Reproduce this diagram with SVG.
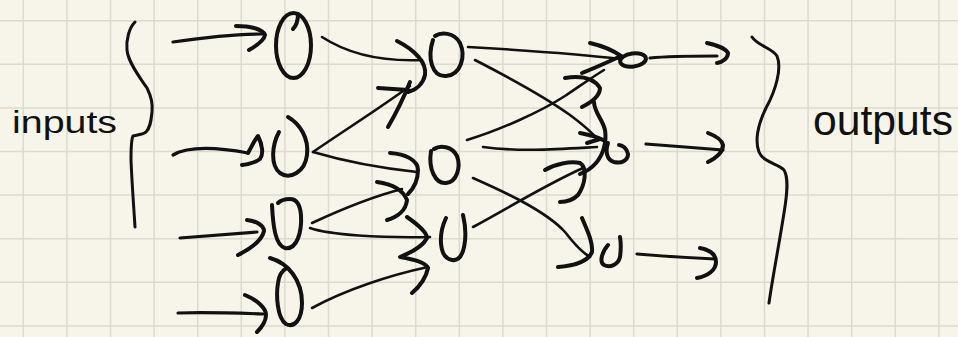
<svg xmlns="http://www.w3.org/2000/svg" width="958" height="337" viewBox="0 0 958 337">
<defs>
<style>
.bg{fill:#f7f5ea}
.grid{stroke:#dcdacd;stroke-width:1.5;fill:none}
.ink{fill:none;stroke:#111;stroke-linecap:round;stroke-linejoin:round}
.n{stroke-width:4}
.h{stroke-width:4}
.l{stroke-width:3.2}
.t{stroke-width:2.6}
.b{stroke-width:3}
.lbl{font-family:"Liberation Sans","DejaVu Sans",sans-serif;fill:#111}
</style>
</defs>
<rect class="bg" x="0" y="0" width="958" height="337"/>
<path class="grid" d="M23.3,0V337M66.9,0V337M110.5,0V337M154.1,0V337M197.7,0V337M241.3,0V337M284.9,0V337M328.5,0V337M372.1,0V337M415.7,0V337M459.3,0V337M502.9,0V337M546.5,0V337M590.1,0V337M633.7,0V337M677.3,0V337M720.9,0V337M764.5,0V337M808.1,0V337M851.7,0V337M895.3,0V337M938.9,0V337M0,20.7H958M0,64.3H958M0,107.9H958M0,151.5H958M0,195.1H958M0,238.7H958M0,282.3H958M0,325.9H958"/>

<g id="label-inputs">
<text class="lbl" x="12" y="133" font-size="32" textLength="105" lengthAdjust="spacingAndGlyphs">inputs</text>
</g>
<g id="brace-inputs">
<path class="ink b" d="M135,22C129,28 126,40 127,50C128,62 140,78 147,88C151,96 153,104 152,112C151,122 150,128 146,132C142,135 136,135 133,136C131,140 131,150 131,160C132,185 134,210 135,227"/>
</g>

<g id="in1"><ellipse class="ink n" cx="293.5" cy="45.5" rx="17.5" ry="32.5"/><path class="ink n" d="M293,29Q298,24 298,14"/></g>
<g id="in2"><path class="ink n" d="M279,132C272,145 270,165 280,173C290,180 305,172 307,155C309,138 300,124 288,117"/></g>
<g id="in3"><path class="ink n" d="M272,205C273,225 275,245 285,248C297,250 302,232 301,215C300,204 296,199 290,199C284,199 280,201 278,203"/></g>
<g id="in4"><path class="ink n" d="M270,258C288,263 302,280 302,303C302,320 294,328 286,324C277,318 276,295 278,283C279,275 283,270 287,268"/></g>

<g id="h1"><path class="ink n" d="M433,40C427,58 432,77 446,76C461,75 466,56 460,43C454,32 441,32 435,36"/></g>
<g id="h2"><path class="ink n" d="M431,151C428,170 436,184 446,183C457,182 461,167 457,156C452,146 440,145 434,149"/></g>
<g id="h3"><path class="ink n" d="M446,218C438,235 439,258 452,260C465,262 468,236 463,215"/></g>

<g id="out1"><ellipse class="ink n" cx="633" cy="60" rx="13" ry="6.5" transform="rotate(-8 633 60)"/></g>
<g id="out2"><path class="ink n" d="M608,143C605,152 607,160 614,162C622,164 628,160 628,154C627,148 622,145 619,145"/></g>
<g id="out3"><path class="ink n" d="M608,245C602,252 599,262 604,265C610,268 618,265 620,257C621,250 621,243 620,237"/></g>

<g id="brace-outputs">
<path class="ink b" d="M752,37C758,46 772,48 777,56C782,68 776,90 766,108C757,126 755,142 759,152C763,162 778,164 784,170C789,178 787,195 784,213C779,245 773,275 769,303"/>
</g>
<g id="label-outputs">
<text class="lbl" x="813" y="135" font-size="42" textLength="140" lengthAdjust="spacingAndGlyphs">outputs</text>
</g>

<g id="connectors">
<!-- inputs into first layer -->
<path class="ink l" d="M173,42C200,38 235,34 262,34"/>
<path class="ink h" d="M236,26C250,26 263,29 265,35C264,41 256,46 249,50"/>
<path class="ink l" d="M173,155C185,148 205,145 248,153"/>
<path class="ink h" d="M248,153C252,146 255,139 258,136C262,144 264,154 260,159C256,162 250,164 242,165"/>
<path class="ink l" d="M180,238C205,236 230,234 257,232"/>
<path class="ink h" d="M247,220C257,221 264,226 264,231C262,240 250,249 238,255"/>
<path class="ink l" d="M178,313C205,312 235,313 263,314"/>
<path class="ink h" d="M245,295C257,300 266,308 266,315C266,322 262,327 257,332"/>

<!-- layer 1 to layer 2 -->
<path class="ink t" d="M322,37C345,52 375,62 422,60"/>
<path class="ink h" d="M397,41C415,50 427,63 425,75C423,84 416,90 408,92"/>
<path class="ink t" d="M313,152C345,130 380,108 410,86"/>
<path class="ink h" d="M378,88L408,90"/>
<path class="ink h" d="M410,82C404,97 395,115 388,127"/>
<path class="ink t" d="M313,152C340,160 380,168 417,172"/>
<path class="ink h" d="M390,153C405,154 418,160 418,170C418,180 414,188 408,194"/>
<path class="ink t" d="M312,223C340,210 375,196 402,189"/>
<path class="ink h" d="M377,182C392,184 403,190 407,200C406,210 398,217 387,220"/>
<path class="ink t" d="M310,228C330,235 380,238 430,237"/>
<path class="ink t" d="M312,308C345,290 390,275 428,267"/>
<path class="ink h" d="M407,217C417,224 427,232 427,238C423,246 410,253 400,257C412,259 426,262 428,268C426,278 419,287 412,293"/>

<!-- layer 2 to outputs -->
<path class="ink t" d="M468,47C520,50 580,54 620,59"/>
<path class="ink h" d="M590,43C603,46 614,51 621,56C608,62 595,68 582,73"/>
<path class="ink t" d="M475,60C510,78 545,97 570,115C582,124 592,132 598,140"/>
<path class="ink t" d="M467,140C500,130 540,112 565,96C580,86 594,76 604,70"/>
<path class="ink h" d="M565,78C578,76 593,77 600,88C600,96 590,103 582,107"/>
<path class="ink t" d="M483,147C520,152 560,149 597,147"/>
<path class="ink h" d="M594,102C594,112 603,120 605,130C607,142 603,155 596,163C590,170 585,172 580,174"/>
<path class="ink h" d="M580,133C590,135 598,137 603,140"/>
<path class="ink h" d="M587,143L600,139"/>
<path class="ink t" d="M473,178C500,190 545,210 565,232C575,245 583,253 590,257"/>
<path class="ink h" d="M582,218C587,230 593,242 592,252C588,262 572,266 558,267"/>
<path class="ink t" d="M473,227C505,210 545,185 583,168"/>
<path class="ink h" d="M545,170C555,164 570,161 580,163C588,168 585,185 578,195C573,200 566,202 560,202"/>

<!-- outputs -->
<path class="ink l" d="M650,58C670,56 695,56 717,56"/>
<path class="ink h" d="M707,43C716,45 726,49 728,53C728,58 723,62 717,63"/>
<path class="ink l" d="M646,144C670,146 700,148 723,150"/>
<path class="ink h" d="M708,133C716,136 722,140 723,145C723,152 716,158 708,162"/>
<path class="ink l" d="M637,254C660,256 690,258 715,259"/>
<path class="ink h" d="M700,248C710,250 716,254 716,262C716,270 708,276 697,278"/>
</g>
</svg>
